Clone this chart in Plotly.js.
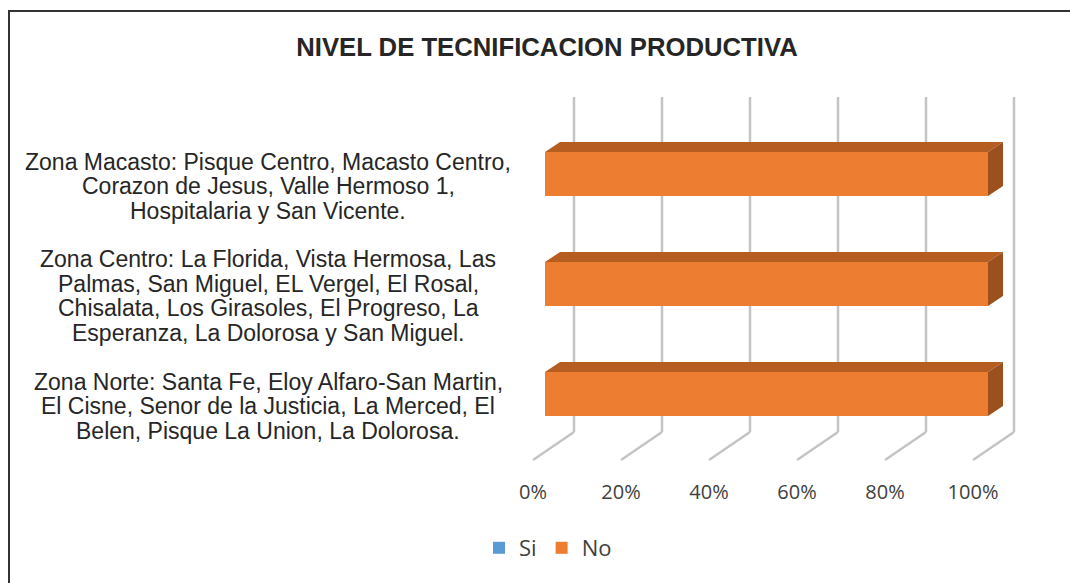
<!DOCTYPE html>
<html><head><meta charset="utf-8">
<script src="https://cdn.plot.ly/plotly-3.0.1.min.js"></script>
<style>html,body{margin:0;padding:0;background:#fff}#chart{width:1070px;height:583px}</style>
</head><body><div id="chart"></div>
<script>
// ---- data ----
const categories = [
  "Zona Norte: Santa Fe, Eloy Alfaro-San Martin,<br>El Cisne, Senor de la Justicia, La Merced, El<br>Belen, Pisque La Union, La Dolorosa.",
  "Zona Centro: La Florida, Vista Hermosa, Las<br>Palmas, San Miguel, EL Vergel, El Rosal,<br>Chisalata, Los Girasoles, El Progreso, La<br>Esperanza, La Dolorosa y San Miguel.",
  "Zona Macasto: Pisque Centro, Macasto Centro,<br>Corazon de Jesus, Valle Hermoso 1,<br>Hospitalaria y San Vicente."
];
const seriesNames = ["Si", "No"];
const si = [0, 0, 0];
const no = [100, 100, 100];
const tickVals = [0, 20, 40, 60, 80, 100];
const tickText = ["0%", "20%", "40%", "60%", "80%", "100%"];
const titleText = "NIVEL DE TECNIFICACION PRODUCTIVA";

// ---- layout helpers ----
const W = 1070, H = 583;
const px = v => v / W;
const py = p => (H - p) / H;
const ppu = 443 / 100;               // pixels per percent on the bar (front) plane
const xr = [-5, 110];
const xDomain = [px(545 + xr[0] * ppu), px(545 + xr[1] * ppu)];
const ppu2 = 440 / 100;              // pixels per percent on the floor front edge
const xr2 = [-10, 115];
const x2Domain = [px(533 + xr2[0] * ppu2), px(533 + xr2[1] * ppu2)];
const ys = categories.map((_, i) => i);
const barW = 0.4, h = barW / 2;
const DX = 15 / ppu, DY = 10 / 110;   // 3D depth offsets in data units

const colors = {Si: "#5B9BD5", No: "#ED7D31"};
const topColors = {Si: "#41719C", No: "#B65E22"};
const sideColors = {Si: "#3A6690", No: "#9C501D"};

const traces = [
  {type: "bar", orientation: "h", name: seriesNames[0], x: si, y: ys, width: barW,
   marker: {color: colors.Si}, hoverinfo: "x+name"},
  {type: "bar", orientation: "h", name: seriesNames[1], x: no, y: ys, width: barW,
   marker: {color: colors.No}, hoverinfo: "x+name"}
];

// 3D faces computed from the stacked values
const series = [[seriesNames[0], si], [seriesNames[1], no]];
ys.forEach(i => {
  let start = 0;
  let lastEnd = 0, lastName = null;
  series.forEach(([name, vals]) => {
    const a = start, b = start + vals[i];
    if (vals[i] > 0) {
      traces.push({type: "scatter", mode: "lines", fill: "toself", showlegend: false, hoverinfo: "skip",
        x: [a, a + DX, b + DX, b, a], y: [i + h, i + h + DY, i + h + DY, i + h, i + h],
        line: {width: 0, color: topColors[name]}, fillcolor: topColors[name]});
      lastEnd = b; lastName = name;
    }
    start = b;
  });
  if (lastName) {
    const b = lastEnd;
    traces.push({type: "scatter", mode: "lines", fill: "toself", showlegend: false, hoverinfo: "skip",
      x: [b, b + DX, b + DX, b, b], y: [i - h, i - h + DY, i + h + DY, i + h, i - h],
      line: {width: 0, color: sideColors[lastName]}, fillcolor: sideColors[lastName]});
  }
});

// carrier for the tick-label axis (floor front edge)
traces.push({type: "scatter", x: [null], y: [null], xaxis: "x2", yaxis: "y", showlegend: false, hoverinfo: "skip"});

// gridlines (back wall + floor diagonal)
const shapes = [];
tickVals.forEach(v => {
  shapes.push({type: "line", layer: "below", xref: "x2", xsizemode: "pixel", xanchor: v, x0: 41, x1: 41,
    yref: "paper", y0: py(432), y1: py(97), line: {color: "#C4C4C4", width: 2.5}});
  shapes.push({type: "line", layer: "below", xref: "x2", xsizemode: "pixel", xanchor: v, x0: 41, x1: 0,
    yref: "paper", y0: py(432), y1: py(460), line: {color: "#C4C4C4", width: 2.5}});
});
// outer frame
shapes.push({type: "rect", xref: "paper", yref: "paper", x0: px(9), x1: 1.3, y0: -0.3, y1: py(11),
  line: {color: "#333333", width: 2}, fillcolor: "rgba(0,0,0,0)"});

// category labels, one annotation per line for tight line spacing
const lineGap = 24.5;
const annotations = [];
categories.forEach((c, i) => {
  const lines = c.split("<br>");
  const n = lines.length;
  lines.forEach((t, k) => {
    annotations.push({
      text: t, x: px(268), xref: "paper", xanchor: "center", y: i, yref: "y", yanchor: "middle",
      yshift: -12 - (k - (n - 1) / 2) * lineGap, showarrow: false, align: "center",
      font: {family: "Liberation Sans, Arial, sans-serif", size: 23, color: "#262626"}
    });
  });
});

const layout = {
  width: W, height: H,
  margin: {l: 0, r: 0, t: 0, b: 0},
  paper_bgcolor: "#ffffff", plot_bgcolor: "rgba(0,0,0,0)",
  barmode: "stack",
  title: {text: titleText, x: px(547), xanchor: "center", xref: "paper", y: py(47), yanchor: "middle", yref: "paper",
    font: {family: "Liberation Sans, Arial, sans-serif", size: 25.7, color: "#262626", weight: "bold"}},
  xaxis: {domain: xDomain, range: xr, showgrid: false, zeroline: false, showticklabels: false, showline: false, fixedrange: true},
  xaxis2: {domain: x2Domain, range: xr2, anchor: "free", position: py(478),
    tickvals: tickVals, ticktext: tickText, ticks: "", showgrid: false, zeroline: false, showline: false,
    tickfont: {family: "Open Sans, sans-serif", size: 20, color: "#404040"}},
  yaxis: {domain: [py(449), py(119)], range: [-0.5, 2.5], showgrid: false, zeroline: false,
    showticklabels: false, showline: false, fixedrange: true},
  showlegend: true,
  legend: {orientation: "h", x: px(548), xanchor: "center", y: py(548), yanchor: "middle",
    font: {family: "Open Sans, sans-serif", size: 22, color: "#404040"}, traceorder: "normal"},
  shapes: shapes,
  annotations: annotations
};

Plotly.newPlot("chart", traces, layout, {displayModeBar: false, staticPlot: true});
</script>
</body></html>
